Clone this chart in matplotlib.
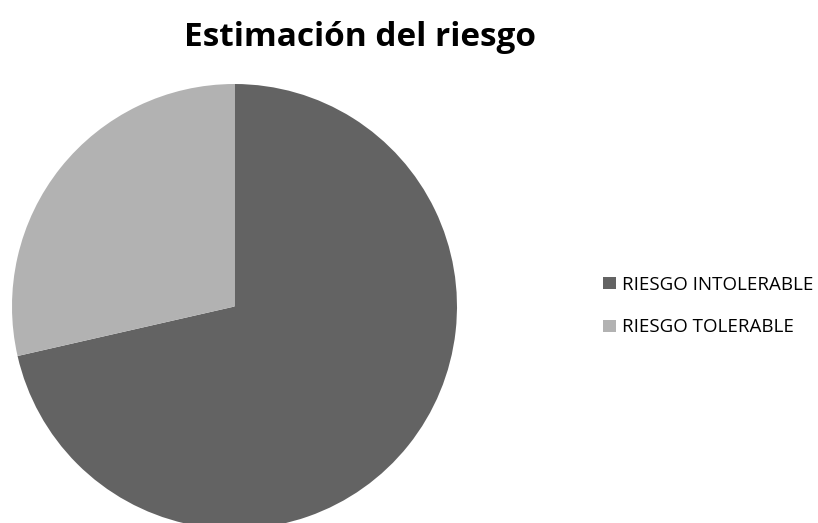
import matplotlib
matplotlib.use("Agg")
import matplotlib.pyplot as plt
from matplotlib.patches import Patch

# Risk estimate split
labels = ["RIESGO INTOLERABLE", "RIESGO TOLERABLE"]
values = [5, 2]
colors = ["#636363", "#b2b2b2"]

W, H = 818, 523
fig = plt.figure(figsize=(W / 100, H / 100), dpi=100)

# Pie area: centre (234.5, 306.5) px, radius 222.5 px
cx, cy, r = 234.5, 306.5, 222.5
ax = fig.add_axes([(cx - r) / W, (H - cy - r) / H, 2 * r / W, 2 * r / H])
ax.pie(values, colors=colors, startangle=90, counterclock=False, radius=1)
ax.set_xlim(-1, 1)
ax.set_ylim(-1, 1)
ax.set_aspect("equal")
ax.axis("off")

fig.text(360 / W, 1 - 38 / H, "Estimación del riesgo", ha="center", va="center",
         fontsize=24, fontweight="bold", family="Open Sans", color="#000000")

handles = [Patch(facecolor=c, edgecolor="none") for c in colors]
fig.legend(handles, labels, loc="center left", bbox_to_anchor=(603 / W, 1 - 306 / H),
           frameon=False, prop={"family": "Open Sans", "size": 13.5},
           borderpad=0, borderaxespad=0,
           handlelength=0.69, handleheight=0.65, handletextpad=0.32, labelspacing=1.32)

fig.savefig("out.png", dpi=100)
